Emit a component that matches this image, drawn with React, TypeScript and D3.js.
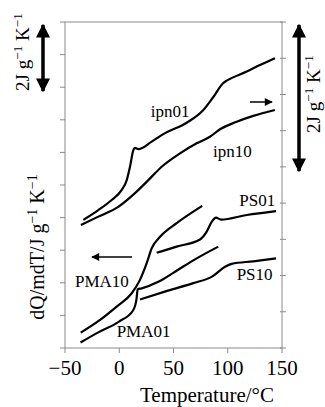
import React from 'react';
import * as d3 from 'd3';

// curve data: temperature (°C) vs dQ/mdT (left-axis tick units, offset curves)
const ipn01T = [-33.1, -19.3, -7, 2.3, 6.9, 9.9, 13, 14.5, 17.6, 29.9, 42.2, 62.2, 77.5, 86.7, 95.9, 99, 117.5, 129.7, 143.5];
const ipn01V = [3.93, 4.23, 4.54, 4.85, 5.15, 5.56, 6.07, 6.14, 6.1, 6.33, 6.59, 6.91, 7.3, 7.7, 8.13, 8.2, 8.48, 8.68, 8.89];

const ipn10T = [-35.3, -19.3, -0.9, 14.5, 26.8, 39.1, 56, 71.4, 83.6, 92.9, 108.2, 123.5, 143.5];
const ipn10V = [3.77, 4.03, 4.33, 4.75, 5.15, 5.56, 5.97, 6.28, 6.48, 6.71, 6.94, 7.12, 7.3];

const pma10T = [-35.5, -17.7, -2.4, 11.5, 19.1, 25.3, 29.9, 37.6, 52.9, 76.5];
const pma10V = [0.47, 0.86, 1.27, 1.68, 2.09, 2.6, 3.06, 3.41, 3.83, 4.36];

const pma01T = [-35.7, -19.3, -0.2, 12.7, 15.9, 17, 20.7, 36, 51.4, 71.4, 91.3];
const pma01V = [0.17, 0.48, 0.81, 1.15, 1.5, 1.8, 1.83, 2.03, 2.34, 2.75, 3.11];

const ps01T = [34.5, 52.9, 74.4, 80.6, 85.2, 89.2, 93.8, 117.5, 144.5];
const ps01V = [2.92, 3.11, 3.33, 3.57, 3.87, 4.0, 3.94, 4.08, 4.2];

const ps10T = [19.1, 44.9, 68.2, 85.5, 97.5, 103.6, 123.5, 144.5];
const ps10V = [1.49, 1.76, 1.99, 2.19, 2.49, 2.58, 2.66, 2.75];

const xTicks = [-50, 0, 50, 100, 150];
const leftTicks = d3.range(0, 11);
const rightTicks = d3.range(0, 10);

// label anchors [T, v] in data units
const labels: { name: string; T: number; v: number }[] = [
  { name: 'ipn01', T: 29, v: 7.09 },
  { name: 'ipn10', T: 86.4, v: 5.86 },
  { name: 'PS01', T: 110.6, v: 4.36 },
  { name: 'PS10', T: 108.2, v: 2.09 },
  { name: 'PMA10', T: -40.8, v: 1.86 },
  { name: 'PMA01', T: -2.4, v: 0.35 },
];

const FONT = '"Liberation Serif", "DejaVu Serif", serif';

const UnitText = () => (
  <>
    2J g<tspan dy={-7} fontSize="0.7em">−1</tspan>
    <tspan dy={7}> K</tspan>
    <tspan dy={-7} fontSize="0.7em">−1</tspan>
  </>
);

export default function App() {
  const width = 325;
  const height = 407;
  const x = d3.scaleLinear().domain([-50, 150]).range([65, 282]);
  const yL = d3.scaleLinear().domain([0, 10]).range([348, 22]);
  const yR = d3.scaleLinear().domain([0, 9]).range([348, 22]);

  const line = d3
    .line<[number, number]>()
    .x(d => x(d[0]))
    .y(d => yL(d[1]))
    .curve(d3.curveMonotoneX);

  const series = [
    [ipn01T, ipn01V],
    [ipn10T, ipn10V],
    [pma10T, pma10V],
    [pma01T, pma01V],
    [ps01T, ps01V],
    [ps10T, ps10V],
  ].map(([t, v]) => t.map((d, i) => [d, v[i]] as [number, number]));

  const axisColor = '#8a8a8a';
  const [x0, x1] = x.range();
  const [yb, yt] = yL.range();

  return (
    <svg
      width={width}
      height={height}
      style={{ position: 'absolute', left: 0, top: 0, background: '#fff' }}
      fontFamily={FONT}
    >
      <defs>
        <marker id="headS" viewBox="0 0 10 10" refX="9" refY="5" markerWidth="4" markerHeight="4" orient="auto-start-reverse">
          <path d="M0,0 L10,5 L0,10 z" fill="#000" />
        </marker>
        <marker id="headL" viewBox="0 0 10 10" refX="9" refY="5" markerWidth="10" markerHeight="8" markerUnits="userSpaceOnUse" orient="auto-start-reverse">
          <path d="M0,0 L10,5 L0,10 z" fill="#000" />
        </marker>
      </defs>

      {/* frame */}
      <rect x={x0} y={yt} width={x1 - x0} height={yb - yt} fill="none" stroke={axisColor} strokeWidth={1} />

      {/* left ticks */}
      {leftTicks.map(t => (
        <line key={'l' + t} x1={x0 - 5} x2={x0} y1={yL(t)} y2={yL(t)} stroke={axisColor} />
      ))}
      {/* right ticks */}
      {rightTicks.map(t => (
        <line key={'r' + t} x1={x1 - 2} x2={x1 + 4} y1={yR(t)} y2={yR(t)} stroke={axisColor} />
      ))}
      {/* bottom ticks */}
      {xTicks.map(t => (
        <g key={'x' + t}>
          <line x1={x(t)} x2={x(t)} y1={yb} y2={yb + 5} stroke={axisColor} />
          <text x={x(t)} y={375} textAnchor="middle" fontSize={21}>
            {t < 0 ? '−' + Math.abs(t) : t}
          </text>
        </g>
      ))}

      <text x={207} y={402} textAnchor="middle" fontSize={21}>
        Temperature/°C
      </text>

      <text transform="translate(44,247) rotate(-90)" textAnchor="middle" fontSize={20}>
        dQ/mdT/J g<tspan dy={-7} fontSize="0.7em">−1</tspan>
        <tspan dy={7}> K</tspan>
        <tspan dy={-7} fontSize="0.7em">−1</tspan>
      </text>

      {/* curves */}
      {series.map((s, i) => (
        <path key={i} d={line(s) || ''} fill="none" stroke="#000" strokeWidth={2.2} strokeLinejoin="round" />
      ))}

      {labels.map(l => (
        <text key={l.name} x={x(l.T)} y={yL(l.v)} fontSize={17}>
          {l.name}
        </text>
      ))}

      {/* direction arrows */}
      <line x1={250} x2={272} y1={102} y2={102} stroke="#000" strokeWidth={1.5} markerEnd="url(#headL)" />
      <line x1={132} x2={92} y1={257} y2={257} stroke="#000" strokeWidth={1.5} markerEnd="url(#headL)" />

      {/* scale bars */}
      <line x1={43} x2={43} y1={25} y2={91} stroke="#000" strokeWidth={3.5} markerStart="url(#headS)" markerEnd="url(#headS)" />
      <text transform="translate(29,52) rotate(-90)" textAnchor="middle" fontSize={19}>
        <UnitText />
      </text>

      <line x1={299} x2={299} y1={25} y2={171} stroke="#000" strokeWidth={3.5} markerStart="url(#headS)" markerEnd="url(#headS)" />
      <text transform="translate(320,94) rotate(-90)" textAnchor="middle" fontSize={19}>
        <UnitText />
      </text>
    </svg>
  );
}
